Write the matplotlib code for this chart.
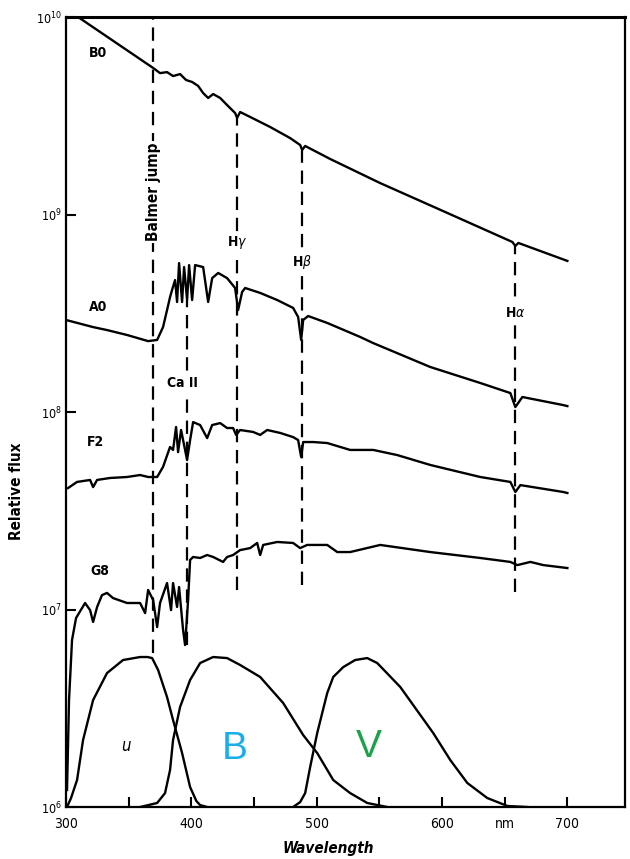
import numpy as np
import matplotlib
matplotlib.use("Agg")
import matplotlib.pyplot as plt
from matplotlib import font_manager

names = set(f.name for f in font_manager.fontManager.ttflist)
narrow = [n for n in ['Liberation Sans Narrow', 'DejaVu Sans Condensed'] if n in names]
plt.rcParams['font.family'] = narrow + ['DejaVu Sans']
plt.rcParams['font.stretch'] = 'condensed'

# stellar spectra: wavelength (nm) and log10 of relative flux
b0_wl = [309.6, 369.5, 375.0, 380.6, 385.4, 391.0, 395.8, 400.6, 405.4, 409.4, 413.4, 417.4,
         423.0, 429.3, 434.9, 436.5, 438.9, 446.9, 462.9, 478.8, 486.8, 488.4, 490.8, 510.8,
         550.7, 604.2, 656.1, 658.5, 660.9, 700.0]
b0_logf = [10.0, 9.742, 9.716, 9.721, 9.701, 9.711, 9.681, 9.671, 9.651, 9.615, 9.590, 9.610,
           9.590, 9.549, 9.514, 9.489, 9.519, 9.494, 9.443, 9.387, 9.352, 9.327, 9.347, 9.281,
           9.159, 9.008, 8.861, 8.841, 8.856, 8.765]

a0_wl = [300.0, 321.6, 332.7, 348.7, 365.5, 372.7, 377.4, 380.6, 383.0, 384.6, 387.0, 388.6,
         390.2, 392.6, 394.2, 396.6, 398.2, 400.6, 403.0, 409.4, 413.4, 416.6, 421.4, 428.5,
         434.9, 437.3, 440.5, 442.9, 454.9, 468.5, 481.2, 485.2, 487.6, 489.2, 493.2, 508.4,
         534.7, 545.1, 590.6, 630.5, 654.5, 658.5, 664.1, 696.8, 700.0]
a0_logf = [8.466, 8.430, 8.415, 8.390, 8.359, 8.365, 8.430, 8.516, 8.582, 8.618, 8.668, 8.557,
           8.754, 8.557, 8.734, 8.567, 8.744, 8.567, 8.744, 8.734, 8.557, 8.678, 8.704, 8.678,
           8.628, 8.516, 8.608, 8.628, 8.603, 8.567, 8.527, 8.481, 8.365, 8.466, 8.486, 8.451,
           8.380, 8.349, 8.228, 8.147, 8.096, 8.025, 8.076, 8.035, 8.030]

f2_wl = [301.6, 308.8, 319.2, 321.6, 324.8, 335.1, 348.7, 359.1, 365.5, 372.7, 377.4, 383.0,
         385.4, 387.8, 389.4, 391.8, 393.4, 396.6, 399.0, 401.4, 407.0, 412.6, 416.6, 423.0,
         428.5, 433.3, 435.7, 438.9, 449.3, 454.9, 460.5, 470.9, 481.2, 485.2, 487.6, 489.2,
         497.2, 508.4, 526.7, 545.1, 564.3, 590.6, 630.5, 654.5, 658.5, 662.5, 696.8, 700.0]
f2_logf = [7.615, 7.646, 7.656, 7.620, 7.656, 7.666, 7.671, 7.681, 7.671, 7.671, 7.722, 7.823,
           7.808, 7.924, 7.797, 7.909, 7.858, 7.757, 7.858, 7.949, 7.934, 7.868, 7.934, 7.944,
           7.919, 7.919, 7.884, 7.909, 7.899, 7.884, 7.909, 7.894, 7.873, 7.858, 7.772, 7.848,
           7.848, 7.843, 7.808, 7.808, 7.782, 7.732, 7.671, 7.646, 7.595, 7.630, 7.595, 7.590]

g8_wl = [300.8, 302.4, 304.8, 308.0, 315.2, 319.2, 321.6, 324.8, 328.7, 332.7, 337.5, 348.7,
         359.1, 363.1, 365.5, 369.5, 372.7, 375.0, 380.6, 383.8, 385.4, 388.6, 390.2, 393.4,
         395.0, 397.4, 399.0, 401.4, 407.0, 412.6, 417.4, 425.3, 428.5, 433.3, 438.9, 446.9,
         452.5, 454.9, 457.3, 468.5, 481.2, 486.8, 492.4, 508.4, 516.4, 526.7, 550.7, 590.6,
         630.5, 654.5, 660.1, 670.5, 680.8, 700.0]
g8_logf = [6.086, 6.542, 6.846, 6.957, 7.033, 6.997, 6.937, 7.013, 7.073, 7.084, 7.058, 7.033,
           7.033, 6.982, 7.099, 7.048, 6.911, 7.033, 7.134, 6.997, 7.134, 7.013, 7.114, 6.896,
           6.820, 7.048, 7.251, 7.266, 7.261, 7.276, 7.266, 7.241, 7.266, 7.276, 7.301, 7.311,
           7.337, 7.276, 7.327, 7.342, 7.337, 7.311, 7.327, 7.327, 7.291, 7.291, 7.327, 7.291,
           7.261, 7.241, 7.225, 7.241, 7.225, 7.210]

# UBV filter responses (relative, peak = 1)
u_wl = [300.8, 304.0, 308.8, 313.6, 321.6, 332.7, 345.5, 359.1, 365.0, 368.7, 373.5, 380.6,
        385.4, 392.6, 399.0, 404.0, 407.0, 412.6]
u_resp = [0, 0.06, 0.18, 0.447, 0.713, 0.893, 0.98, 1.0, 1.0, 0.993, 0.913, 0.733, 0.58,
          0.36, 0.133, 0.04, 0.013, 0]
b_wl = [359.1, 372.7, 379.0, 383.0, 385.4, 391.0, 399.0, 407.0, 417.4, 428.5, 438.9, 454.9,
        473.3, 489.2, 500.4, 513.2, 526.7, 540.3, 556.3]
b_resp = [0, 0.027, 0.093, 0.247, 0.447, 0.667, 0.847, 0.96, 1.0, 0.993, 0.947, 0.867,
          0.693, 0.48, 0.36, 0.18, 0.093, 0.027, 0]
v_wl = [481.2, 486.8, 490.8, 494.8, 500.4, 508.4, 513.2, 521.2, 530.7, 540.3, 548.3, 566.7,
        593.0, 606.6, 620.2, 636.1, 652.1, 668.1]
v_resp = [0, 0.033, 0.093, 0.267, 0.493, 0.76, 0.867, 0.933, 0.98, 0.993, 0.96, 0.8,
          0.493, 0.313, 0.16, 0.06, 0.007, 0]

# marker lines: wavelength, log top, log bottom
line_names = ['Balmer jump', 'Ca II', r'H$\gamma$', r'H$\beta$', r'H$\alpha$']
line_wl = [369.5, 396.6, 436.5, 488.0, 658.5]
line_top = [10.0, 8.567, 9.489, 9.327, 8.841]
line_bot = [6.78, 6.82, 7.10, 7.124, 7.09]
label_logy = [9.114, 8.147, 8.856, 8.76, 8.50]

star_names = ['B0', 'A0', 'F2', 'G8']
star_label_wl = [325.5, 325.5, 323.5, 327.0]
star_label_logy = [9.82, 8.532, 7.847, 7.193]

xtick_pos = [300, 350, 400, 450, 500, 550, 600, 650, 700]
xtick_lab = ['300', '', '400', '', '500', '', '600', 'nm', '700']

fig = plt.figure(figsize=(6.3, 8.59), dpi=100)
ax = fig.add_axes([0.1048, 0.0605, 0.8873, 0.9197])

lw = 1.7
for wl, lf in [(b0_wl, b0_logf), (a0_wl, a0_logf), (f2_wl, f2_logf), (g8_wl, g8_logf)]:
    ax.plot(wl, 10 ** np.array(lf), color='black', lw=lw, solid_joinstyle='round')

for wl, top, bot in zip(line_wl, line_top, line_bot):
    ax.plot([wl, wl], [10 ** bot, 10 ** top], color='black', lw=1.6,
            linestyle=(0, (6, 3.5)))

box = dict(fc='white', ec='none', pad=1.5)
for name, wl, ly in zip(line_names, line_wl, label_logy):
    if name == 'Balmer jump':
        ax.text(wl, 10 ** ly, name, rotation=90, ha='center', va='center', fontsize=11,
                fontweight='semibold', bbox=box)
    elif name == 'Ca II':
        ax.text(wl - 3.5, 10 ** ly, 'Ca II', ha='center', va='center', fontsize=10,
                fontweight='semibold', bbox=box)
    else:
        ax.text(wl, 10 ** ly, name, ha='center', va='center', fontsize=10,
                fontweight='semibold', bbox=box)

for name, wl, ly in zip(star_names, star_label_wl, star_label_logy):
    ax.text(wl, 10 ** ly, name, ha='center', va='center', fontsize=10, fontweight='semibold')

ax.set_yscale('log')
ax.set_xlim(300, 746)
ax.set_ylim(1e6, 1e10)
ax.set_yticks([1e6, 1e7, 1e8, 1e9, 1e10])
ax.set_yticklabels([r'$10^6$', r'$10^7$', r'$10^8$', r'$10^9$', r'$10^{10}$'])
ax.yaxis.set_minor_locator(matplotlib.ticker.NullLocator())
ax.set_xticks(xtick_pos)
ax.set_xticklabels(xtick_lab)
ax.tick_params(direction='in', length=7, width=1.5, labelsize=10)
ax.tick_params(axis='x', pad=7)
ax.tick_params(axis='y', pad=3, labelsize=9)
for s in ax.spines.values():
    s.set_linewidth(1.6)
ax.spines['top'].set_linewidth(2.2)

ax.set_xlabel('Wavelength', fontsize=11, fontweight='bold', style='italic')
ax.xaxis.set_label_coords(0.47, -0.043)
ax.set_ylabel('Relative flux', fontsize=11, fontweight='semibold')
ax.yaxis.set_label_coords(-0.075, 0.40)

# filter curves on their own linear scale in the lower part
ax2 = ax.twinx()
ax2.set_ylim(0, 790 / 150)
ax2.set_xlim(300, 746)
ax2.axis('off')
for wl, r in [(u_wl, u_resp), (b_wl, b_resp), (v_wl, v_resp)]:
    ax2.plot(wl, r, color='black', lw=lw, solid_joinstyle='round')
ax2.text(347.5, 0.41, 'u', fontsize=12, style='italic', ha='center', va='center')
ax2.text(434.5, 0.39, 'B', fontsize=28, color='#1aaee8', ha='center', va='center',
         family='Liberation Sans', stretch='normal')
ax2.text(541.5, 0.40, 'V', fontsize=28, color='#1ca24b', ha='center', va='center',
         family='Liberation Sans', stretch='normal')

fig.savefig('out.png', dpi=100)
